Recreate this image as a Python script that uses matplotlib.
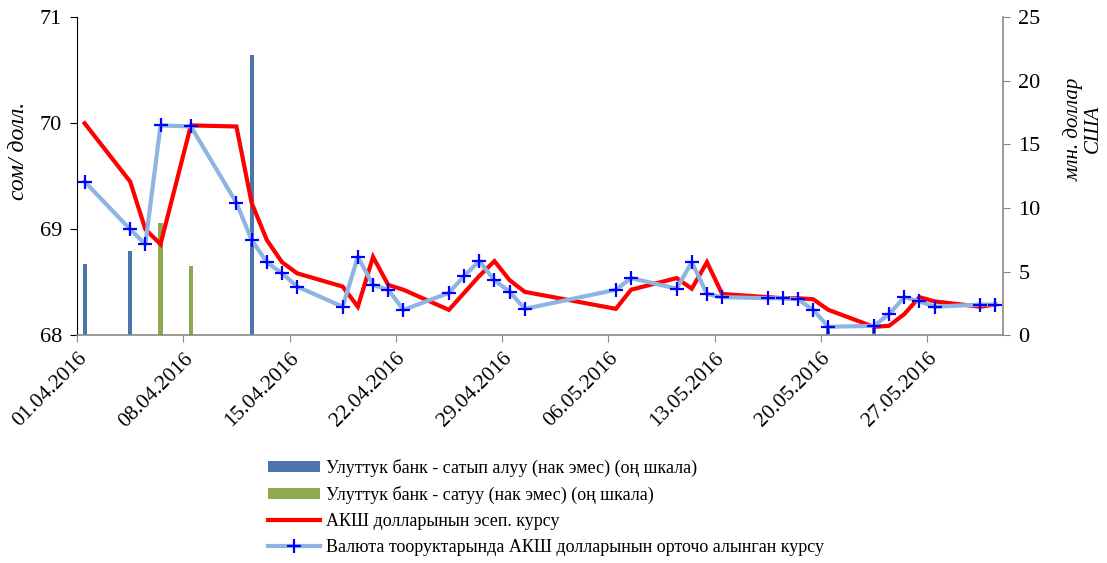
import matplotlib
matplotlib.use("Agg")
import matplotlib.pyplot as plt
import pandas as pd

# Dates of the interbank market observations (also used for the official rate)
rate_dates = ["01.04.2016", "04.04.2016", "05.04.2016", "06.04.2016", "08.04.2016",
              "11.04.2016", "12.04.2016", "13.04.2016", "14.04.2016", "15.04.2016",
              "18.04.2016", "19.04.2016", "20.04.2016", "21.04.2016", "22.04.2016",
              "25.04.2016", "26.04.2016", "27.04.2016", "28.04.2016", "29.04.2016",
              "30.04.2016", "06.05.2016", "07.05.2016", "10.05.2016", "11.05.2016",
              "12.05.2016", "13.05.2016", "16.05.2016", "17.05.2016", "18.05.2016",
              "19.05.2016", "20.05.2016", "23.05.2016", "24.05.2016", "25.05.2016",
              "26.05.2016", "27.05.2016", "30.05.2016", "31.05.2016"]

# Weighted average USD rate on the FX market (som per dollar)
market_rate = [69.45, 69.00, 68.86, 69.98, 69.97, 69.25, 68.90, 68.69, 68.585, 68.46,
               68.27, 68.74, 68.475, 68.43, 68.24, 68.40, 68.56, 68.70, 68.52, 68.41,
               68.25, 68.43, 68.54, 68.44, 68.69, 68.39, 68.36, 68.35, 68.35, 68.34,
               68.24, 68.08, 68.09, 68.20, 68.36, 68.32, 68.27, 68.29, 68.29]

# Official USD rate (som per dollar)
official_rate = [70.00, 69.45, 69.00, 68.86, 69.98, 69.97, 69.25, 68.90, 68.69, 68.585,
                 68.46, 68.27, 68.74, 68.475, 68.43, 68.24, 68.40, 68.56, 68.70, 68.52,
                 68.41, 68.25, 68.43, 68.54, 68.44, 68.69, 68.39, 68.36, 68.35, 68.35,
                 68.34, 68.24, 68.08, 68.09, 68.20, 68.36, 68.32, 68.27, 68.29]

# National bank interventions, mln USD (right scale)
buy_dates = ["01.04.2016", "04.04.2016", "12.04.2016", "20.05.2016", "23.05.2016"]
buy_volume = [5.6, 6.6, 22.0, 0.6, 0.6]
sell_dates = ["06.04.2016", "08.04.2016"]
sell_volume = [8.8, 5.45]

tick_labels = ["01.04.2016", "08.04.2016", "15.04.2016", "22.04.2016", "29.04.2016",
               "06.05.2016", "13.05.2016", "20.05.2016", "27.05.2016"]

label_buy = "Улуттук банк - сатып алуу (нак эмес) (оң шкала)"
label_sell = "Улуттук банк - сатуу (нак эмес) (оң шкала)"
label_official = "АКШ долларынын эсеп. курсу"
label_market = "Валюта тооруктарында АКШ долларынын орточо алынган курсу"

start = pd.Timestamp("2016-04-01")
end = pd.Timestamp("2016-06-01")


def to_x(dates):
    # day index from 1 April, centred inside the day slot like Excel does
    return [(pd.to_datetime(d, format="%d.%m.%Y") - start).days + 0.5 for d in dates]


plt.rcParams["font.family"] = ["Liberation Serif", "DejaVu Serif"]

fig = plt.figure(figsize=(11.07, 5.63), dpi=100)
ax = fig.add_axes([0.0696, 0.4044, 0.9060 - 0.0696, 0.9693 - 0.4044])
ax2 = ax.twinx()
ax.set_zorder(ax2.get_zorder() + 1)
ax.patch.set_visible(False)

# Bars on the right scale
b1 = ax2.bar(to_x(buy_dates), buy_volume, width=0.27, color="#4A76AC", zorder=2)
b2 = ax2.bar(to_x(sell_dates), sell_volume, width=0.27, color="#8EAA4E", zorder=2)

# Lines on the left scale
l1, = ax.plot(to_x(rate_dates), official_rate, color="#FF0000", lw=3.0,
              solid_joinstyle="miter", zorder=3)
l2, = ax.plot(to_x(rate_dates), market_rate, color="#8DB4E2", lw=3.0,
              marker="+", markersize=10, markeredgewidth=1.6, markeredgecolor="#0000FF",
              zorder=4)

xmax = (end - start).days
ax.set_xlim(0, xmax)
ax.set_ylim(68, 71)
ax.set_yticks([68, 69, 70, 71])
ax2.set_ylim(0, 25)
ax2.set_yticks([0, 5, 10, 15, 20, 25])

ax.set_xticks(list(range(0, 57, 7)))
ax.set_xticklabels(tick_labels, rotation=45, ha="right", rotation_mode="anchor", fontsize=15.5)
ax.tick_params(axis="x", length=5, color="#888888", pad=5)
ax.tick_params(axis="y", length=5, color="black", labelsize=16, pad=6)
ax2.tick_params(axis="y", length=5, color="#888888", labelsize=16, pad=6)

for side in ["top", "right"]:
    ax.spines[side].set_visible(False)
ax.spines["left"].set_color("black")
ax.spines["bottom"].set_color("#888888")
ax.spines["bottom"].set_linewidth(1.2)
for side in ["top", "left", "bottom"]:
    ax2.spines[side].set_visible(False)
ax2.spines["right"].set_color("#888888")
ax2.spines["right"].set_linewidth(1.2)

fig.text(18 / 1107, 1 - 151 / 563, "сом/ долл.", rotation=90, style="italic",
         fontsize=17, ha="center", va="center")
fig.text(1083 / 1107, 1 - 129 / 563, "млн. доллар\nСША", rotation=90, style="italic",
         fontsize=15, ha="center", va="center", multialignment="center", linespacing=1.0)

fig.legend([b1, b2, l1, l2], [label_buy, label_sell, label_official, label_market],
           loc="upper left", bbox_to_anchor=(268 / 1107, 1 - 459 / 563),
           frameon=False, fontsize=13, handlelength=2.9, handleheight=0.6,
           handletextpad=0.3, labelspacing=0.5, borderpad=0, borderaxespad=0)

fig.savefig("out.png", dpi=100)
